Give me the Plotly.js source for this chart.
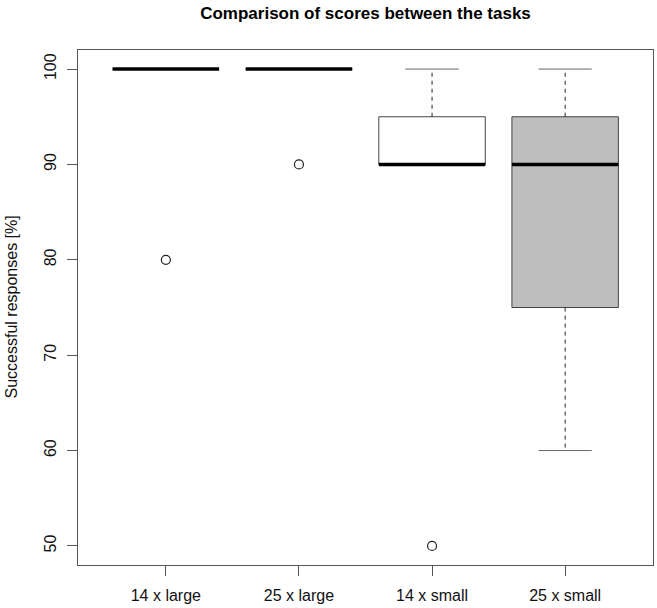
<!DOCTYPE html>
<html>
<head>
<meta charset="utf-8">
<script src="https://cdn.plot.ly/plotly-3.0.1.min.js"></script>
<style>html,body{margin:0;padding:0;background:#fff;}#chart{width:657px;height:608px;}</style>
</head>
<body>
<div id="chart"></div>
<script>
// Data
const categories = ["14 x large", "25 x large", "14 x small", "25 x small"];
const lowerWhisker = [100, 100, 90, 60];
const q1Values = [100, 100, 90, 75];
const medianValues = [100, 100, 90, 90];
const q3Values = [100, 100, 95, 95];
const upperWhisker = [100, 100, 100, 100];
const outlierGroup = [1, 2, 3];
const outlierValues = [80, 90, 50];
const boxFills = ["#ffffff", "#ffffff", "#ffffff", "#bebebe"];
const yTicks = [50, 60, 70, 80, 90, 100];

const halfBox = 0.4, halfCap = 0.2;
const traces = [];
categories.forEach((c, k) => {
  const i = k + 1;
  // box
  traces.push({
    type: "scatter", mode: "lines", hoverinfo: "skip", showlegend: false,
    x: [i - halfBox, i + halfBox, i + halfBox, i - halfBox, i - halfBox],
    y: [q1Values[k], q1Values[k], q3Values[k], q3Values[k], q1Values[k]],
    fill: "toself", fillcolor: boxFills[k],
    line: {color: "#444", width: 1}
  });
  // whiskers (dashed)
  if (upperWhisker[k] > q3Values[k]) {
    traces.push({type: "scatter", mode: "lines", showlegend: false, hoverinfo: "skip",
      x: [i, i], y: [q3Values[k], upperWhisker[k]],
      line: {color: "#222", width: 1, dash: "4px,4px"}});
  }
  if (lowerWhisker[k] < q1Values[k]) {
    traces.push({type: "scatter", mode: "lines", showlegend: false, hoverinfo: "skip",
      x: [i, i], y: [q1Values[k], lowerWhisker[k]],
      line: {color: "#222", width: 1, dash: "4px,4px"}});
  }
  // caps
  [upperWhisker[k], lowerWhisker[k]].forEach(v => {
    traces.push({type: "scatter", mode: "lines", showlegend: false, hoverinfo: "skip",
      x: [i - halfCap, i + halfCap], y: [v, v],
      line: {color: "#666", width: 1}});
  });
  // median
  traces.push({type: "scatter", mode: "lines", showlegend: false, hoverinfo: "skip",
    x: [i - halfBox, i + halfBox], y: [medianValues[k], medianValues[k]],
    line: {color: "#000", width: 3.5}});
});
// outliers
traces.push({type: "scatter", mode: "markers", showlegend: false,
  x: outlierGroup, y: outlierValues,
  marker: {symbol: "circle-open", size: 9, color: "#222", line: {width: 1.2, color: "#222"}}});

const font = "Liberation Sans, Arial, Helvetica, sans-serif";
const layout = {
  width: 657, height: 608,
  margin: {l: 78, r: 4, t: 50, b: 43, pad: 0},
  paper_bgcolor: "#fff", plot_bgcolor: "#fff",
  font: {family: font, size: 16, color: "#111"},
  title: {text: "<b>Comparison of scores between the tasks</b>",
    font: {family: font, size: 17, color: "#000"},
    x: 0.5, xref: "paper", xanchor: "center", y: 0.979, yref: "container", yanchor: "middle"},
  xaxis: {range: [0.34, 4.66], tickmode: "array", tickvals: [1, 2, 3, 4], ticktext: categories,
    showgrid: false, zeroline: false, showline: true, linecolor: "#555", linewidth: 1, mirror: true,
    ticks: "outside", ticklen: 10, tickcolor: "#555", tickwidth: 1, ticklabelstandoff: 6,
    tickfont: {family: font, size: 16, color: "#111"}, fixedrange: true},
  yaxis: {range: [48, 102], tickmode: "array", tickvals: yTicks, ticktext: yTicks.map(String),
    showgrid: false, zeroline: false, showline: true, linecolor: "#555", linewidth: 1, mirror: true,
    ticks: "outside", ticklen: 10, tickcolor: "#555", tickwidth: 1, tickangle: -90, ticklabelstandoff: 5,
    tickfont: {family: font, size: 16, color: "#111"}, fixedrange: true},
  annotations: [{
    text: "Successful responses [%]", textangle: -90,
    xref: "paper", yref: "paper", x: 0, y: 0.5, xanchor: "center", yanchor: "middle",
    xshift: -67, showarrow: false, font: {family: font, size: 16, color: "#111"}
  }]
};
Plotly.newPlot("chart", traces, layout, {displayModeBar: false, staticPlot: true});
</script>
</body>
</html>
